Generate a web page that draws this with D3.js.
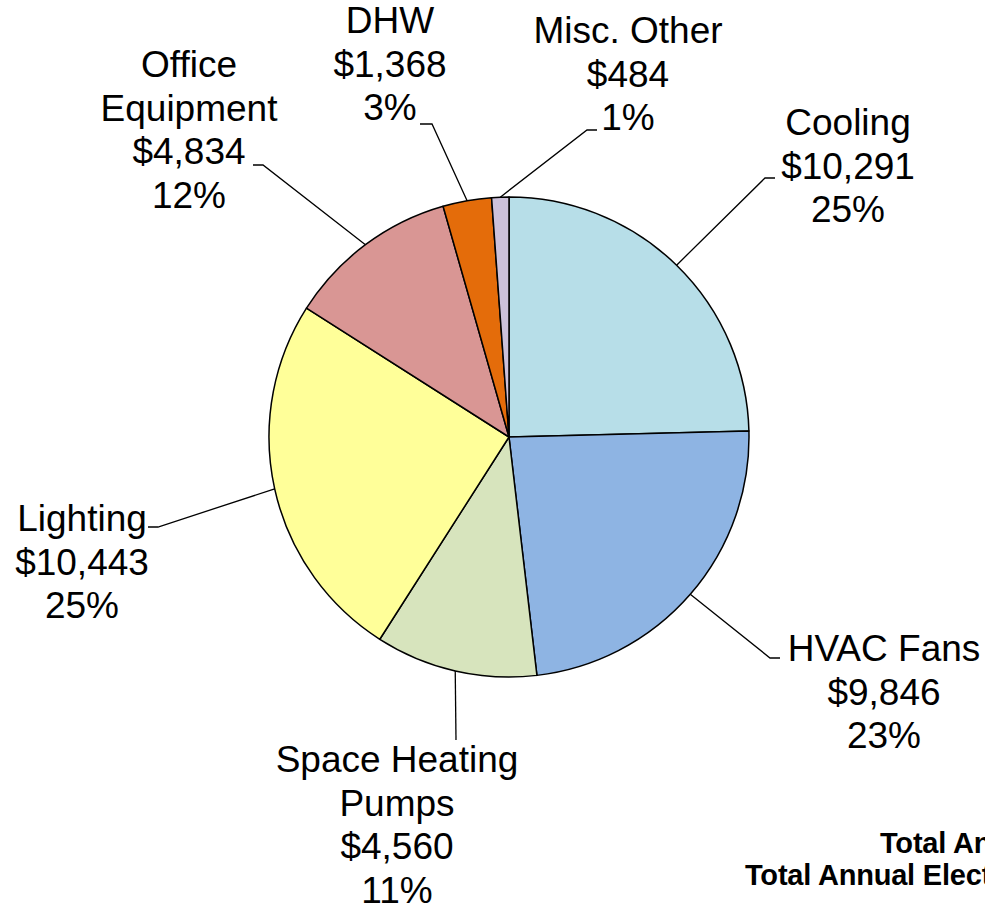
<!DOCTYPE html>
<html>
<head>
<meta charset="utf-8">
<script src="https://cdn.jsdelivr.net/npm/d3@7"></script>
<style>
  body { margin: 0; background: #fff; }
  svg { display: block; }
</style>
</head>
<body>
<script>
// chart data
var categories = ["Cooling", "HVAC Fans", "Space Heating Pumps", "Lighting", "Office Equipment", "DHW", "Misc. Other"];
var costs = [10291, 9846, 4560, 10443, 4834, 1368, 484];
var pctLabels = ["25%", "23%", "11%", "25%", "12%", "3%", "1%"];
var colors = ["#B7DEE8", "#8EB4E3", "#D7E4BD", "#FFFF99", "#D99694", "#E46C0A", "#CCC1DA"];

var w = 985, h = 907;
var cx = 509, cy = 437, r = 240;

// label layout (where each data label box sits, and the leader elbow)
var labelLayout = [
  { lines: ["Cooling"], x: 848, y: 135, elbow: [765, 178], end: [775, 178] },
  { lines: ["HVAC Fans"], x: 884, y: 661, elbow: [770, 658], end: [780, 658] },
  { lines: ["Space Heating", "Pumps"], x: 397, y: 772, elbow: [456, 740], end: [456, 740] },
  { lines: ["Lighting"], x: 82, y: 531, elbow: [158, 527], end: [148, 527] },
  { lines: ["Office", "Equipment"], x: 189, y: 77, elbow: [263, 165], end: [253, 165] },
  { lines: ["DHW"], x: 390, y: 33, elbow: [432, 124], end: [420, 124] },
  { lines: ["Misc. Other"], x: 628, y: 43, elbow: [587, 130], end: [597, 130] }
];

var fmt = d3.format("$,");

var svg = d3.select("body")
  .append("svg")
  .attr("width", w)
  .attr("height", h);

var pie = d3.pie().sort(null).value(function(d) { return d; });
var arcs = pie(costs);

var arc = d3.arc().innerRadius(0).outerRadius(r);

var g = svg.append("g").attr("transform", "translate(" + cx + "," + cy + ")");

g.selectAll("path")
  .data(arcs)
  .enter()
  .append("path")
  .attr("d", arc)
  .attr("fill", function(d, i) { return colors[i]; })
  .attr("stroke", "#000")
  .attr("stroke-width", 1.5)
  .attr("stroke-linejoin", "round");

// leader lines from the slice mid point on the rim
svg.selectAll("polyline.leader")
  .data(arcs)
  .enter()
  .append("polyline")
  .attr("class", "leader")
  .attr("fill", "none")
  .attr("stroke", "#000")
  .attr("stroke-width", 1.3)
  .attr("points", function(d, i) {
    var a = (d.startAngle + d.endAngle) / 2;
    var px = cx + r * Math.sin(a), py = cy - r * Math.cos(a);
    var L = labelLayout[i];
    return [[px, py], L.elbow, L.end].map(function(p) { return p.join(","); }).join(" ");
  });

// data labels
var lineH = 43.7;
var labels = svg.selectAll("text.lbl")
  .data(categories)
  .enter()
  .append("text")
  .attr("class", "lbl")
  .attr("text-anchor", "middle")
  .attr("font-family", "Liberation Sans, Arial, sans-serif")
  .attr("font-size", 37)
  .attr("fill", "#000");

labels.each(function(c, i) {
  var L = labelLayout[i];
  var rows = L.lines.concat([fmt(costs[i]), pctLabels[i]]);
  d3.select(this).selectAll("tspan")
    .data(rows)
    .enter()
    .append("tspan")
    .attr("x", L.x)
    .attr("y", function(t, k) { return L.y + k * lineH; })
    .text(function(t) { return t; });
});

// totals note, bottom right (runs off the edge as in the original)
var notes = ["Total Annual Electricity Cost", "Total Annual Electricity Use"];
var noteX = [880, 745];
var noteY = [853, 885];
svg.selectAll("text.note")
  .data(notes)
  .enter()
  .append("text")
  .attr("class", "note")
  .attr("x", function(d, i) { return noteX[i]; })
  .attr("y", function(d, i) { return noteY[i]; })
  .attr("font-family", "Liberation Sans, Arial, sans-serif")
  .attr("font-weight", "bold")
  .attr("font-size", 29)
  .attr("letter-spacing", -0.2)
  .attr("fill", "#000")
  .text(function(d) { return d; });
</script>
</body>
</html>
